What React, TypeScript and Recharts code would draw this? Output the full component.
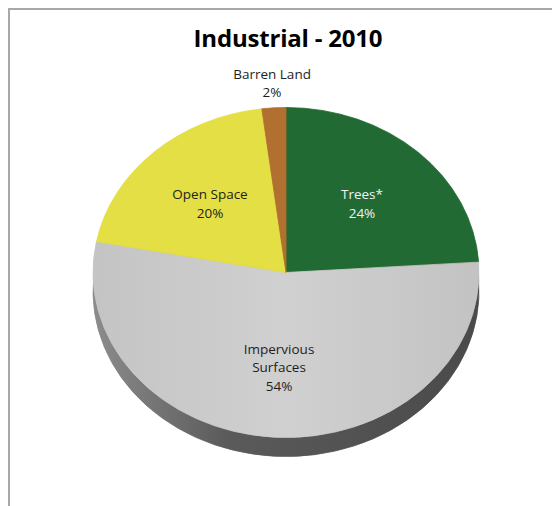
import { PieChart, Pie, Cell } from "recharts";

const categories = ["Trees*", "Impervious Surfaces", "Open Space", "Barren Land"];
const shares = [24, 54, 20, 2];

const TOP_COLORS = ["#226a34", "url(#grayTop)", "#e4df44", "#b1702f"];
const LABEL_COLORS = ["#f2f2f2", "#1e1e1e", "#1e1e1e", "#1e1e1e"];

const data = categories.map((name, i) => ({ name, value: shares[i] }));

const RAD = Math.PI / 180;
const SQUASH = 0.855; // vertical flattening of the tilted pie
const DEPTH = 19;
const FONT = "'Open Sans', sans-serif";

function ellPoint(cx: number, cy: number, r: number, a: number) {
  return [cx + r * Math.cos(-a * RAD), cy + r * SQUASH * Math.sin(-a * RAD)];
}

function EllipseSector(props: any) {
  const { cx, cy, outerRadius, startAngle, endAngle, fill } = props;
  const [x1, y1] = ellPoint(cx, cy, outerRadius, startAngle);
  const [x2, y2] = ellPoint(cx, cy, outerRadius, endAngle);
  const span = Math.abs(startAngle - endAngle);
  const large = span > 180 ? 1 : 0;
  const sweep = startAngle > endAngle ? 1 : 0;
  const d = `M${cx},${cy} L${x1},${y1} A${outerRadius},${outerRadius * SQUASH} 0 ${large} ${sweep} ${x2},${y2} Z`;
  return <path d={d} fill={fill} stroke={fill} strokeWidth={0.8} />;
}

function wrap(name: string) {
  if (name.length <= 12) return [name];
  return name.split(" ");
}

function renderLabel(props: any) {
  const { cx, cy, midAngle, outerRadius, percent, name, index } = props;
  const f = percent < 0.05 ? 1.15 : 0.575;
  const [x, y] = ellPoint(cx, cy, outerRadius * f, midAngle);
  const lines = [...wrap(name), `${Math.round(percent * 100)}%`];
  const lh = 18.5;
  const top = y - ((lines.length - 1) * lh) / 2;
  return (
    <text
      x={x}
      y={top}
      textAnchor="middle"
      dominantBaseline="central"
      fill={LABEL_COLORS[index]}
      fontFamily={FONT}
      fontSize={13.5}
    >
      {lines.map((l, i) => (
        <tspan key={i} x={x} y={top + i * lh}>
          {l}
        </tspan>
      ))}
    </text>
  );
}

export default function App() {
  // PieChart adds its 5px default margin to numeric cx / cy
  const cx = 271;
  const cy = 257.5;
  const r = 193;
  return (
    <div style={{ position: "relative", width: 552, height: 498 }}>
      <div
        style={{
          position: "absolute",
          left: -8,
          top: 3,
          width: 7,
          height: 495,
          background: "linear-gradient(to right, #f6f6f6, #a0a0a0)",
        }}
      />
      <div
        style={{
          position: "absolute",
          left: 0,
          top: 0,
          width: 550,
          height: 496,
          borderTop: "2px solid #a8a8a8",
          borderLeft: "2px solid #a8a8a8",
          background: "#fff",
        }}
      >
        <div
          style={{
            position: "absolute",
            left: 0,
            top: 11,
            width: 556,
            textAlign: "center",
            fontFamily: FONT,
            fontWeight: 700,
            fontSize: 24,
            color: "#000",
            letterSpacing: -0.2,
          }}
        >
          Industrial - 2010
        </div>
        <PieChart width={550} height={496}>
          <defs>
            <linearGradient id="grayTop" x1="0" y1="0" x2="1" y2="0">
              <stop offset="0%" stopColor="#c4c4c4" />
              <stop offset="50%" stopColor="#d0d0d0" />
              <stop offset="100%" stopColor="#c3c3c3" />
            </linearGradient>
            <linearGradient id="rim" x1="0" y1="0" x2="1" y2="0">
              <stop offset="0%" stopColor="#8c8c8c" />
              <stop offset="35%" stopColor="#5a5a5a" />
              <stop offset="100%" stopColor="#4a4a4a" />
            </linearGradient>
          </defs>
          <Pie
            data={data}
            dataKey="value"
            nameKey="name"
            cx={cx}
            cy={cy + DEPTH}
            outerRadius={r}
            startAngle={90}
            endAngle={-270}
            shape={EllipseSector}
            isAnimationActive={false}
            label={false}
          >
            {data.map((_, i) => (
              <Cell key={i} fill="url(#rim)" />
            ))}
          </Pie>
          <Pie
            data={data}
            dataKey="value"
            nameKey="name"
            cx={cx}
            cy={cy}
            outerRadius={r}
            startAngle={90}
            endAngle={-270}
            shape={EllipseSector}
            isAnimationActive={false}
            label={renderLabel}
            labelLine={false}
          >
            {data.map((_, i) => (
              <Cell key={i} fill={TOP_COLORS[i]} />
            ))}
          </Pie>
        </PieChart>
      </div>
    </div>
  );
}
